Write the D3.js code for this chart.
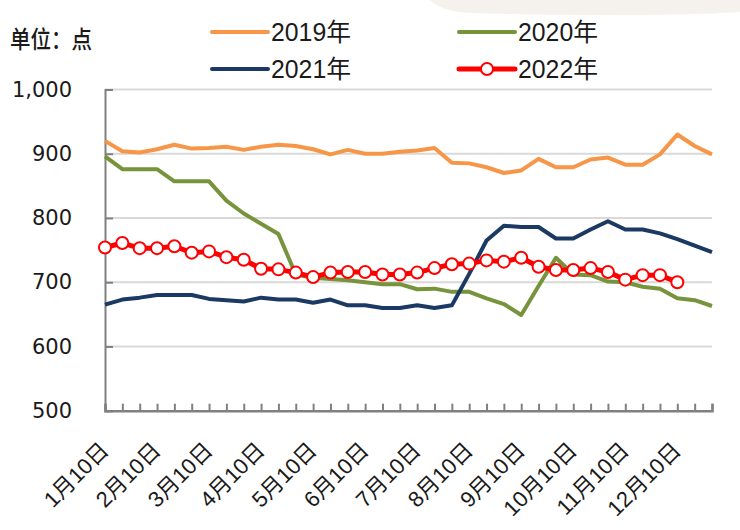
<!DOCTYPE html>
<html><head><meta charset="utf-8">
<script src="https://cdn.jsdelivr.net/npm/d3@7"></script>
<style>
html,body{margin:0;padding:0;background:#fff;}
svg{display:block;}
</style></head>
<body><svg id="chart" width="740" height="530"></svg>
<script>
const categories = ["1月10日","1月20日","1月30日","2月10日","2月20日","2月28日","3月10日","3月20日","3月30日","4月10日","4月20日","4月30日",
  "5月10日","5月20日","5月30日","6月10日","6月20日","6月30日","7月10日","7月20日","7月30日","8月10日","8月20日","8月30日",
  "9月10日","9月20日","9月30日","10月10日","10月20日","10月30日","11月10日","11月20日","11月30日","12月10日","12月20日","12月30日"];
const tickLabels = ["1月10日","2月10日","3月10日","4月10日","5月10日","6月10日","7月10日","8月10日","9月10日","10月10日","11月10日","12月10日"];
const yTicks = [500, 600, 700, 800, 900, 1000];
const seriesNames = ["2019年","2020年","2021年","2022年"];
const v2019 = [920,904,902,907,914,908,909,911,906,911,914,912,907,899,906,900,900,903,905,909,886,885,879,870,874,892,879,879,891,894,883,883,899,930,912,899];
const v2020 = [896,876,876,876,857,857,857,827,807,791,775,712,707,705,703,700,697,697,689,690,685,685,675,666,649,694,738,712,711,701,700,693,690,675,672,663];
const v2021 = [665,673,676,680,680,680,674,672,670,676,673,673,668,673,664,664,660,660,664,660,664,713,765,788,786,786,768,768,782,795,782,782,776,767,757,747];
const v2022 = [754,761,753,753,756,746,748,739,735,721,720,715,708,715,716,716,712,712,715,722,728,729,734,732,738,724,719,719,722,716,704,711,711,700];

const colors = {"2019年":"#F79646","2020年":"#77933C","2021年":"#1B3A63","2022年":"#FF0000"};
const svg = d3.select("#chart");
const pLeft = 105, pRight = 712, pTop = 89.5, pBottom = 410.7;
const x = d3.scalePoint().domain(categories).range([pLeft, pRight]);
const y = d3.scaleLinear().domain([500, 1000]).range([pBottom, pTop]);
const font = "'Liberation Sans', Arial, 'Noto Sans CJK SC', sans-serif";

// faint background fragment at top right
svg.append("path").attr("d","M430,0 L740,0 L740,12 C680,16 560,16 470,13 C450,12 435,6 430,0 Z")
  .attr("fill","#f5f2ee");

// gridlines
svg.append("g").selectAll("line").data(yTicks.filter(t=>t>500)).join("line")
  .attr("x1", pLeft).attr("x2", pRight).attr("y1", d=>y(d)).attr("y2", d=>y(d))
  .attr("stroke","#d9d9d9").attr("stroke-width",2);

// y axis
const yAxis = svg.append("g").attr("transform",`translate(${pLeft},0)`)
  .call(d3.axisLeft(y).tickValues(yTicks).tickFormat(d3.format(",")).tickSize(-8).tickPadding(33));
yAxis.select(".domain").attr("stroke","#808080").attr("stroke-width",2);
yAxis.selectAll(".tick line").attr("stroke","#808080").attr("stroke-width",2);
yAxis.selectAll(".tick text").attr("font-family","'DejaVu Sans', sans-serif").attr("font-size",21).attr("fill","#1a1a1a");

// x axis
const xAxis = svg.append("g").attr("transform",`translate(0,${pBottom})`)
  .call(d3.axisBottom(x).tickSize(-7).tickFormat(""));
xAxis.select(".domain").attr("stroke","#808080").attr("stroke-width",2.5);
xAxis.selectAll(".tick line").attr("stroke","#808080").attr("stroke-width",2);

svg.append("g").selectAll("text").data(tickLabels).join("text")
  .attr("transform", d=>`translate(${x(d)+5},${pBottom+41}) rotate(-45)`)
  .attr("text-anchor","end")
  .attr("font-family","'Liberation Sans', Arial, 'Noto Sans CJK SC', sans-serif")
  .attr("font-size",22).attr("fill","#1a1a1a")
  .text(d=>d);

// lines
const line = d3.line().x((d,i)=>x(categories[i])).y(d=>y(d));
const data = [["2019年",v2019],["2020年",v2020],["2021年",v2021],["2022年",v2022]];
data.forEach(([name, vals])=>{
  svg.append("path").datum(vals).attr("d", line)
    .attr("fill","none").attr("stroke", colors[name])
    .attr("stroke-width", name==="2022年"?5:4).attr("stroke-linejoin","round");
});
svg.append("g").selectAll("circle").data(v2022).join("circle")
  .attr("cx",(d,i)=>x(categories[i])).attr("cy",d=>y(d)).attr("r",6)
  .attr("fill","#fff").attr("stroke","#FF0000").attr("stroke-width",2);

// unit label
svg.append("text").attr("x",10).attr("y",48).attr("font-family","'Noto Sans CJK SC', sans-serif")
  .attr("font-size",24).attr("font-weight",500).attr("fill","#1a1a1a")
  .attr("textLength",82).attr("lengthAdjust","spacingAndGlyphs").text("单位：点");

// legend
const legendPos = [[212,32],[459,32],[212,69],[459,69]];
seriesNames.forEach((name,i)=>{
  const [lx,ly] = legendPos[i];
  const g = svg.append("g");
  g.append("line").attr("x1",lx).attr("x2",lx+56).attr("y1",ly).attr("y2",ly)
    .attr("stroke",colors[name]).attr("stroke-width", name==="2022年"?5:4).attr("stroke-linecap","round");
  if(name==="2022年"){
    g.append("circle").attr("cx",lx+28).attr("cy",ly).attr("r",6).attr("fill","#fff").attr("stroke","#FF0000").attr("stroke-width",2);
  }
  g.append("text").attr("x",lx+59).attr("y",ly+9).attr("font-family",font)
    .attr("font-size",25).attr("fill","#1a1a1a")
    .attr("textLength",80).attr("lengthAdjust","spacingAndGlyphs").text(name);
});
</script></body></html>
